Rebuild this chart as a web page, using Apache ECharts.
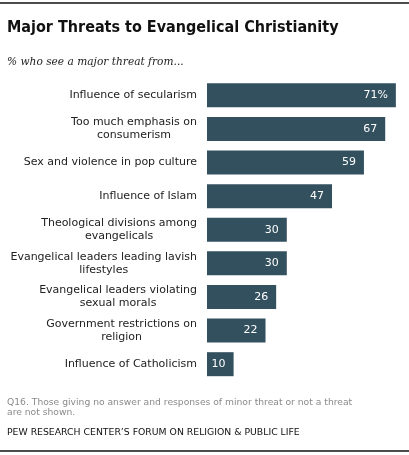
<!DOCTYPE html>
<html>
<head>
<meta charset="utf-8">
<script src="https://cdn.jsdelivr.net/npm/echarts@6/dist/echarts.min.js"></script>
<style>
  html, body { margin: 0; padding: 0; background: #fff; }
  #chart { width: 409px; height: 455px; }
</style>
</head>
<body>
<div id="chart"></div>
<script>
let categories = [
    'Influence of secularism',
    'Too much emphasis on\nconsumerism',
    'Sex and violence in pop culture',
    'Influence of Islam',
    'Theological divisions among\nevangelicals',
    'Evangelical leaders leading lavish\nlifestyles',
    'Evangelical leaders violating\nsexual morals',
    'Government restrictions on\nreligion',
    'Influence of Catholicism'
];
let values = [71, 67, 59, 47, 30, 30, 26, 22, 10];

let myChart = echarts.init(document.getElementById('chart'));

let option = {
    animation: false,
    title: [
        {
            text: 'Major Threats to Evangelical Christianity',
            left: 2, top: 15,
            textStyle: { fontFamily: 'DejaVu Sans Condensed', fontWeight: 'bold', fontSize: 16, color: '#111' }
        },
        {
            text: '% who see a major threat from...',
            left: 2, top: 51,
            textStyle: { fontFamily: 'DejaVu Serif Condensed', fontStyle: 'italic', fontWeight: 'normal', fontSize: 11.8, color: '#222' }
        },
        {
            text: 'Q16. Those giving no answer and responses of minor threat or not a threat\nare not shown.',
            left: 2, top: 392,
            textStyle: { fontFamily: 'DejaVu Sans', fontWeight: 'normal', fontSize: 9.2, lineHeight: 10.5, color: '#8a8a8a' }
        },
        {
            text: 'PEW RESEARCH CENTER\u2019S FORUM ON RELIGION & PUBLIC LIFE',
            left: 2, top: 423,
            textStyle: { fontFamily: 'DejaVu Sans', fontWeight: 'normal', fontSize: 9.3, color: '#111' }
        }
    ],
    graphic: [
        { type: 'line', shape: { x1: 0, y1: 3, x2: 409, y2: 3 }, style: { stroke: '#111', lineWidth: 1.5 } },
        { type: 'line', shape: { x1: 0, y1: 451, x2: 409, y2: 451 }, style: { stroke: '#111', lineWidth: 1.5 } }
    ],
    grid: { left: 207, right: 2.5, top: 78.5, bottom: 455 - 381 },
    xAxis: {
        type: 'value', min: 0, max: 75, show: false
    },
    yAxis: {
        type: 'category',
        data: categories,
        inverse: true,
        axisLine: { show: false },
        axisTick: { show: false },
        axisLabel: {
            margin: 10,
            color: '#222',
            fontFamily: 'DejaVu Sans',
            fontSize: 11,
            lineHeight: 13,
            formatter: function (v) {
                return v.split('\n').map(function (s) { return '{c|' + s + '}'; }).join('\n');
            },
            rich: {
                c: { align: 'center', fontFamily: 'DejaVu Sans', fontSize: 11, lineHeight: 13, color: '#222' }
            }
        }
    },
    series: [
        {
            type: 'bar',
            data: values,
            barWidth: 24,
            itemStyle: { color: '#33505f' },
            label: {
                show: true,
                position: 'insideRight',
                distance: 8,
                color: '#fff',
                fontFamily: 'DejaVu Sans',
                fontSize: 11,
                formatter: function (p) { return p.dataIndex === 0 ? p.value + '%' : String(p.value); }
            }
        }
    ]
};

myChart.setOption(option);
</script>
</body>
</html>
